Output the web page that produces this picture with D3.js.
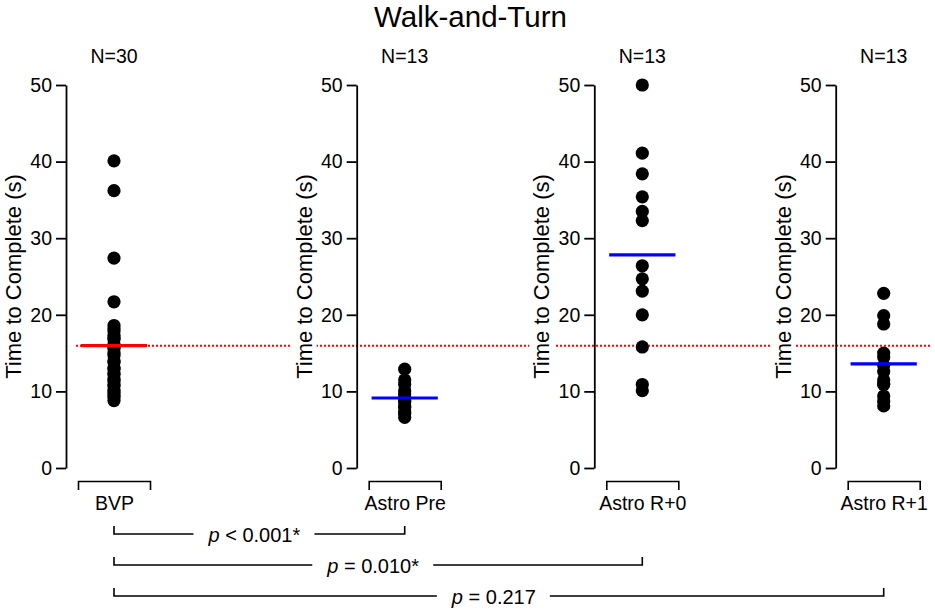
<!DOCTYPE html>
<html>
<head>
<meta charset="utf-8">
<script src="https://cdn.jsdelivr.net/npm/d3@7"></script>
<style>
    body { margin: 0; background: #fff; }
    text { font-family: "Liberation Sans", Arial, Helvetica, sans-serif; fill: #000; }
</style>
</head>
<body>
<svg id="chart" width="935" height="612"></svg>
<script>

// Data

var categories = [ "BVP", "Astro Pre", "Astro R+0", "Astro R+1" ];

var bvp = [ 40.1, 36.2, 27.4, 21.7, 18.6, 18.2, 17.9, 17.3, 17.0, 16.8, 16.2, 15.8, 15.6, 15.0, 14.7,
            14.0, 13.8, 13.1, 12.9, 12.4, 12.2, 11.6, 11.4, 10.9, 10.7, 10.2, 9.9, 9.5, 9.2, 8.8 ];
var astroPre = [ 12.9, 11.5, 10.9, 10.1, 9.7, 9.3, 8.8, 8.6, 8.1, 7.9, 7.3, 7.1, 6.6 ];
var astroR0 = [ 50.0, 41.1, 38.4, 35.4, 33.5, 32.3, 26.4, 24.7, 23.1, 20.0, 15.8, 10.9, 10.1 ];
var astroR1 = [ 22.8, 19.9, 18.8, 15.0, 14.5, 13.4, 12.6, 11.5, 11.0, 10.9, 9.4, 8.7, 8.1 ];

var yTicks = [ 0, 10, 20, 30, 40, 50 ];

var compareTo = [ "Astro Pre", "Astro R+0", "Astro R+1" ];
var pLabels = [ "< 0.001*", "= 0.010*", "= 0.217" ];

var groups = [ bvp, astroPre, astroR0, astroR1 ];

// Layout

var width = 935;
var svg = d3.select("#chart");

var y = d3.scaleLinear().domain([ 0, 50 ]).range([ 468, 85 ]);

var panelX = d3.scaleOrdinal()
    .domain( categories )
    .range([ 66, 356.7, 594.3, 835.7 ]);

function xScale ( cat ) {
    var left = panelX( cat );
    return d3.scaleLinear().domain([ 0, 1 ]).range([ left + 12, left + 84 ]);
}

// Title

svg.append("text")
    .attr("x", width / 2 + 3)
    .attr("y", 27)
    .attr("text-anchor", "middle")
    .style("font-size", "29.5px")
    .text("Walk-and-Turn");

// BVP mean reference line

svg.append("line")
    .attr("x1", xScale("BVP")(0) - 2)
    .attr("x2", width - 5)
    .attr("y1", y( d3.mean(bvp) ))
    .attr("y2", y( d3.mean(bvp) ))
    .attr("stroke", "#ff0000")
    .attr("stroke-width", 2)
    .attr("stroke-dasharray", "2,2");

// Panels

categories.forEach(function ( cat, i ) {

    var left = panelX( cat );
    var x = xScale( cat );
    var vals = groups[ i ];
    var g = svg.append("g");

    // y axis

    var ya = g.append("g")
        .attr("transform", "translate(" + left + ",0)")
        .call( d3.axisLeft(y).tickValues(yTicks).tickSize(10).tickSizeOuter(0).tickPadding(4) );

    ya.selectAll("path, line").attr("stroke", "#000").attr("stroke-width", 1.8);
    ya.selectAll("text").style("font-size", "19.5px");

    // y label, white box keeps the dotted line off it

    var lab = g.append("text")
        .attr("transform", "translate(" + (left - 45) + "," + ((y(0) + y(50)) / 2) + ") rotate(-90)")
        .attr("text-anchor", "middle")
        .style("font-size", "22px")
        .text("Time to Complete (s)");

    var bb = lab.node().getBBox();
    g.insert("rect", function () { return lab.node(); })
        .attr("transform", lab.attr("transform"))
        .attr("x", bb.x - 2)
        .attr("y", bb.y)
        .attr("width", bb.width + 4)
        .attr("height", bb.height)
        .attr("fill", "#fff");

    // N label

    g.append("text")
        .attr("x", x(0.5))
        .attr("y", 63)
        .attr("text-anchor", "middle")
        .style("font-size", "19.5px")
        .text("N=" + vals.length);

    // category bracket

    var xa = g.append("g")
        .attr("transform", "translate(0,481)")
        .call( d3.axisBottom(x).tickValues([ 0.5 ]).tickFormat(function () { return cat; })
            .tickSizeInner(0).tickSizeOuter(9).tickPadding(15) );

    xa.selectAll("path").attr("stroke", "#000").attr("stroke-width", 1.6);
    xa.selectAll("text").style("font-size", "19.5px");

    // points

    g.selectAll("circle")
        .data( vals )
        .join("circle")
        .attr("cx", x(0.5))
        .attr("cy", function ( d ) { return y(d); })
        .attr("r", 6.6)
        .attr("fill", "#000");

    // mean

    g.append("line")
        .attr("x1", x(0.04))
        .attr("x2", x(0.96))
        .attr("y1", y( d3.mean(vals) ))
        .attr("y2", y( d3.mean(vals) ))
        .attr("stroke", i === 0 ? "#ff0000" : "#0000ff")
        .attr("stroke-width", 3.2);

});

// Comparison brackets

compareTo.forEach(function ( cat, j ) {

    var yy = 534 + j * 31;
    var x0 = xScale("BVP")(0.5);
    var x1 = xScale( cat )(0.5);

    var t = svg.append("text")
        .attr("x", (x0 + x1) / 2 - 5)
        .attr("y", yy + 7.5)
        .attr("text-anchor", "middle")
        .style("font-size", "20px");

    t.append("tspan").style("font-style", "italic").text("p");
    t.append("tspan").text(" " + pLabels[ j ]);

    var bb = t.node().getBBox();

    svg.append("path")
        .attr("d", "M" + x0 + "," + (yy - 8) + "V" + yy + "H" + (bb.x - 14))
        .attr("fill", "none")
        .attr("stroke", "#000")
        .attr("stroke-width", 1.6);

    svg.append("path")
        .attr("d", "M" + (bb.x + bb.width + 14) + "," + yy + "H" + x1 + "V" + (yy - 8))
        .attr("fill", "none")
        .attr("stroke", "#000")
        .attr("stroke-width", 1.6);

});

</script>
</body>
</html>
